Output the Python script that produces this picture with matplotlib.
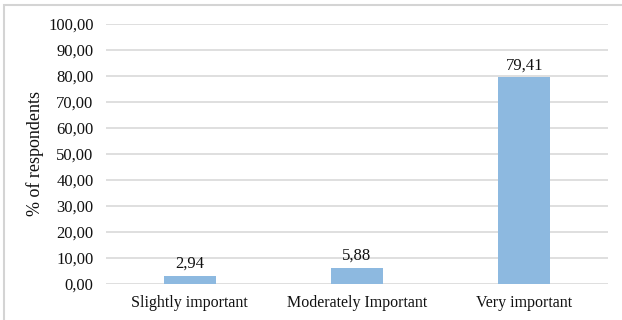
import matplotlib
matplotlib.use("Agg")
import matplotlib.pyplot as plt
from matplotlib.patches import Rectangle

categories = ["Slightly important", "Moderately Important", "Very important"]
values = [2.94, 5.88, 79.41]
yticks = [0, 10, 20, 30, 40, 50, 60, 70, 80, 90, 100]

plt.rcParams['font.family'] = ['Liberation Serif', 'DejaVu Serif']

W, H = 622, 320
fig = plt.figure(figsize=(W / 100, H / 100), dpi=100)
fig.patch.set_facecolor("white")

# outer frame (left and top edges fall inside the image)
fig.add_artist(Rectangle((4 / W, -0.05), 1.2, (H - 5) / H + 0.05,
                         transform=fig.transFigure, fill=False,
                         edgecolor="#d4d4d4", linewidth=1.5))

left, right = 106 / W, 608 / W
bottom, top = 1 - 283.5 / H, 1 - 24 / H
ax = fig.add_axes([left, bottom, right - left, top - bottom])

x = range(len(categories))
bars = ax.bar(x, values, width=0.31, color="#8db9e0", zorder=3)
ax.set_xlim(-0.5, len(categories) - 0.5)
ax.set_ylim(0, 100)
ax.set_yticks(yticks)
ax.set_yticklabels([f"{v:.2f}".replace(".", ",") for v in yticks], fontsize=12)
ax.set_xticks(list(x))
ax.set_xticklabels(categories, fontsize=11.5)

for s in ax.spines.values():
    s.set_visible(False)
ax.tick_params(axis="both", length=0, labelcolor="#111111")
ax.tick_params(axis="y", pad=9)
ax.tick_params(axis="x", pad=8)
ax.grid(axis="y", color="#d9d9d9", linewidth=1.2, zorder=0)
ax.set_axisbelow(True)

for b, v in zip(bars, values):
    ax.annotate(f"{v:.2f}".replace(".", ","),
                (b.get_x() + b.get_width() / 2, v),
                xytext=(0, 3), textcoords="offset points",
                ha="center", va="bottom", fontsize=12, color="#111111")

ax.set_ylabel("% of respondents", fontsize=13, labelpad=3, color="#111111")

fig.savefig("out.png", dpi=100, facecolor="white")
